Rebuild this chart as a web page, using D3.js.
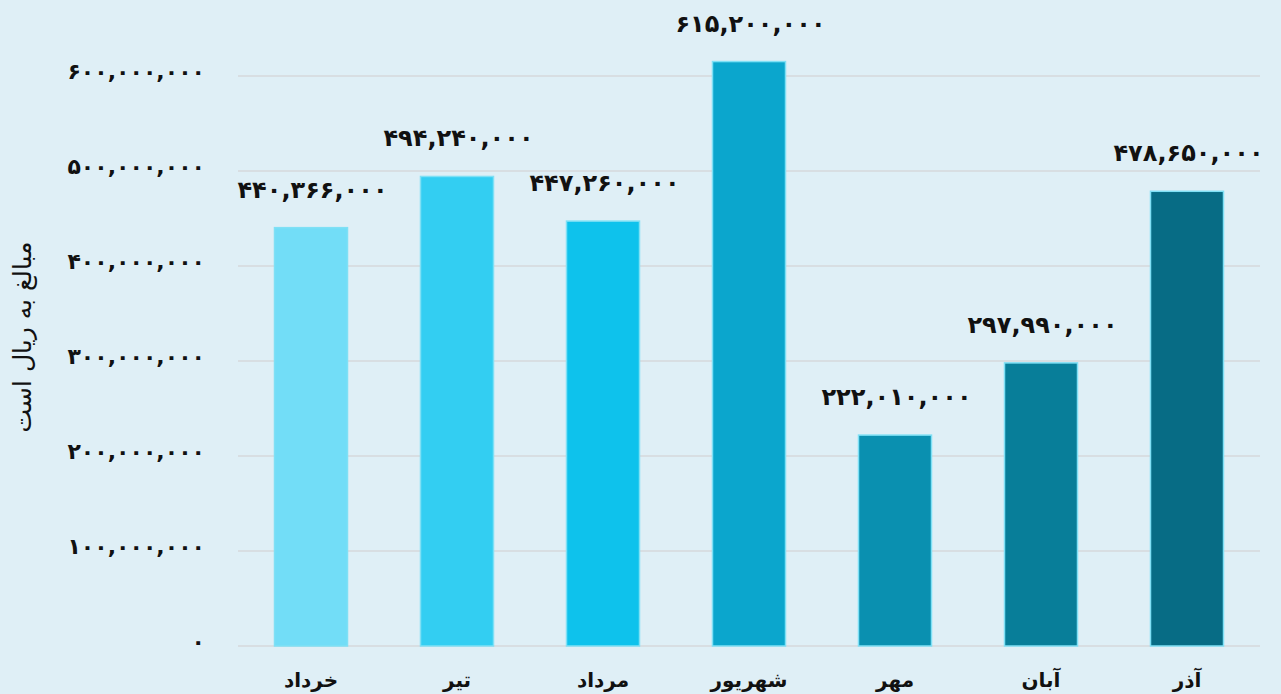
<!DOCTYPE html>
<html><head><meta charset="utf-8">
<script src="https://cdn.jsdelivr.net/npm/d3@7"></script>
<style>
html,body{margin:0;padding:0;background:#DFEFF6;}
svg{display:block;}
</style></head>
<body>
<svg id="chart" width="1281" height="694"></svg>
<script>
const categories = ["خرداد","تیر","مرداد","شهریور","مهر","آبان","آذر"];
const values = [440366000, 494240000, 447260000, 615200000, 222010000, 297990000, 478650000];
const colors = ["#72DDF7","#33CEF2","#0EC2EC","#0BA6CD","#0A90B0","#087E99","#076C85"];
const yTicks = [0,100000000,200000000,300000000,400000000,500000000,600000000];
const yTitle = "مبالغ به ریال است";

const fa = s => s.replace(/[0-9]/g, d => "۰۱۲۳۴۵۶۷۸۹"[+d]);
const fmt = v => fa(d3.format(",")(v));

const svg = d3.select("#chart");
const plotLeft = 238, plotRight = 1260;
const y = d3.scaleLinear().domain([0,600000000]).range([646,76]);
const x = d3.scaleBand().domain(categories).range([plotLeft,plotRight]).paddingInner(0.5).paddingOuter(0.25);

const font = "'DejaVu Sans', sans-serif";

svg.append("g").selectAll("line").data(yTicks).join("line")
  .attr("x1", plotLeft).attr("x2", plotRight)
  .attr("y1", d => y(d)).attr("y2", d => y(d))
  .attr("stroke", "#D6D9DB").attr("stroke-width", 1.5);

svg.append("g").selectAll("text").data(yTicks).join("text")
  .attr("x", 205).attr("y", d => y(d) - 5)
  .attr("text-anchor", "end").attr("dominant-baseline", "central")
  .attr("font-family", font).attr("font-weight", "bold").attr("font-size", 22)
  .attr("letter-spacing", 2.5)
  .attr("fill", "#111")
  .text(d => fmt(d));

svg.append("g").selectAll("rect").data(values).join("rect")
  .attr("x", (d,i) => x(categories[i]))
  .attr("width", x.bandwidth())
  .attr("y", d => y(d))
  .attr("height", d => y(0) - y(d))
  .attr("fill", (d,i) => colors[i])
  .attr("stroke", "#7FE0F5").attr("stroke-width", 1.5);

svg.append("g").selectAll("text").data(values).join("text")
  .attr("x", (d,i) => x(categories[i]) + x.bandwidth()/2 + 1.5)
  .attr("y", d => y(d) - 38)
  .attr("text-anchor", "middle").attr("dominant-baseline", "central")
  .attr("font-family", font).attr("font-weight", "bold").attr("font-size", 24)
  .attr("letter-spacing", 3)
  .attr("fill", "#111")
  .text(d => fmt(d));

svg.append("g").selectAll("text").data(categories).join("text")
  .attr("x", d => x(d) + x.bandwidth()/2)
  .attr("y", 680)
  .attr("text-anchor", "middle").attr("dominant-baseline", "central")
  .attr("font-family", font).attr("font-weight", "bold").attr("font-size", 20)
  .attr("fill", "#111")
  .text(d => d);

svg.append("text")
  .attr("transform", "translate(22,337) rotate(-90)")
  .attr("text-anchor", "middle").attr("dominant-baseline", "central")
  .attr("font-family", font).attr("font-size", 25)
  .attr("fill", "#111")
  .text(yTitle);
</script>
</body></html>
